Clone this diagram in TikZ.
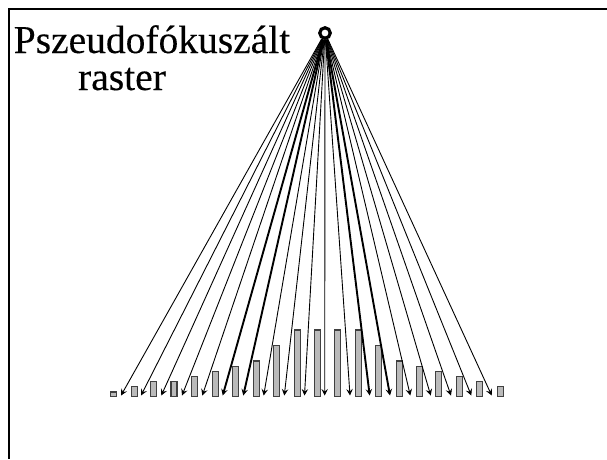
\documentclass[tikz,border=0pt]{standalone}
\usepackage{fontspec}
\setmainfont[FakeBold=0.25]{Liberation Serif}
\usetikzlibrary{arrows.meta}
\tikzset{
  x=1pt,y=-1pt,
  bar/.style={draw=black!75,fill=black!27,line width=1.3pt,inner sep=0pt,outer sep=0pt,anchor=south,minimum width=6pt},
  ray/.style={draw=black,line width=0.9pt,-{Stealth[length=6.5pt,width=6.5pt,inset=2.5pt]}},
  heavy/.style={ray,line width=1.9pt},
  src/.style={circle,draw=black,line width=3.2pt,inner sep=0pt,minimum size=10.5pt,fill=white},
  title/.style={font=\fontsize{39.5}{41}\selectfont,inner sep=0pt,anchor=base}
}
\begin{document}
\begin{tikzpicture}
\useasboundingbox (0,0) rectangle (607,459);
\fill[white] (0,0) rectangle (607,459);
\coordinate (fa) at (607,9);
\coordinate (fb) at (9,9);
\coordinate (fc) at (9,459);
\draw[line width=2pt,black] (fa) -- (fb) -- (fc);
\node[title] (t1) at (152,53) {Pszeudofókuszált};
\node[title] (t2) at (122,90) {raster};
\foreach \i/\x/\t in {1/113.5/392,2/134.3/386.8,3/153.5/381.8,4/174/381.8,5/194.5/376.5,6/215.2/371.5,7/235.5/366.5,8/256.2/361,9/276.5/345.5,10/297.2/330,11/317.2/330,12/337.8/330,13/358.2/330,14/378.5/345.5,15/399.2/361,16/419.5/366.5,17/438.8/371.5,18/459.5/376.5,19/479.8/381.8,20/500.2/386.8}
  \node[bar,minimum height={396.2-\t}] (bar\i) at (\x,396.2) {};
\foreach \i/\x in {1/121,2/141,3/161.3,4/182,5/202.3,6/222.7,7/243.3,8/263.7,9/284.3,10/304.5,11/324.7,12/350,13/369.7,14/390,15/410.3,16/430.7,17/451,18/471.3,19/491.7}
  \coordinate (tip\i) at (\x,395.5);
\node[src] (source) at (325,33) {};
\foreach \i in {1,2,3,4,5,8,9,10,11,12,15,16,17,18,19}
  \draw[ray] (source) -- (tip\i);
\foreach \i in {6,7,13,14}
  \draw[heavy] (source) -- (tip\i);
\end{tikzpicture}
\end{document}
